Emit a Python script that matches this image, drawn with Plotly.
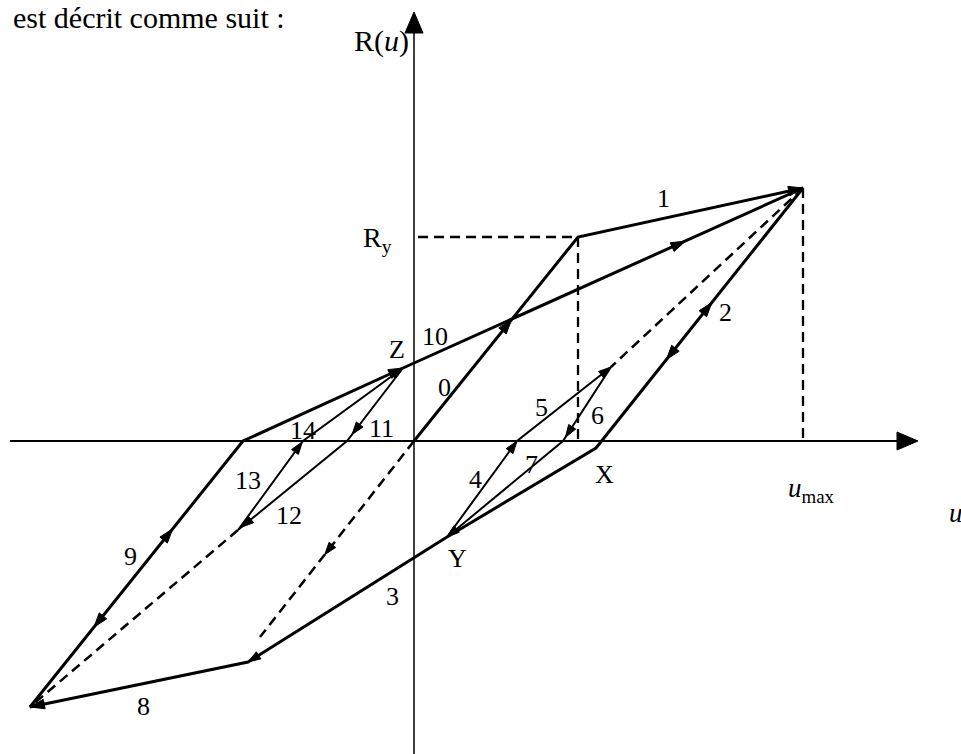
import numpy as np
import plotly.graph_objects as go

# Hysteresis loop R(u): key points (u, R) of the force-displacement path
loop_names = ["O", "A", "P", "X", "Y", "B", "C", "D", "Z", "H4", "F", "H6", "H11", "G", "H13", "E"]
loop_u = [0.0, 16.4, 38.9, 18.2, 3.3, -16.6, -38.4, -17.1, -1.1, 10.3, 19.7, 14.9, -6.7, -17.6, -11.1, -15.4]
loop_R = [0.0, 20.4, 25.3, -0.7, -9.6, -22.1, -26.6, 0.0, 7.3, 0.0, 7.4, 0.0, 0.0, -8.9, 0.0, -19.6]
pt = {n: (u, r) for n, u, r in zip(loop_names, loop_u, loop_R)}

# branches: 0 O-A, 1 A-P, 2 P-X, 3 X-B, 8 B-C, 9 C-D, 10 D-P
main_path = ["O", "A", "P", "X", "Y", "B", "C", "D", "Z", "P"]
# small cycles: 4-5-6-7 around Y and 11-12-13-14 around Z
inner_paths = [["Y", "H4", "F", "H6", "Y"], ["Z", "H11", "G", "H13", "Z"]]
# dashed paths (continuation of branches)
dashed_paths = [["P", "F"], ["G", "C"], ["O", "E"]]

# arrowheads: (from, to, fraction along segment, kind)
arrows = [
    ("O", "A", 0.595, "thick"),
    ("A", "P", 1.0, "thick"),
    ("D", "P", 0.79, "thick"),
    ("D", "Z", 1.0, "thick"),
    ("P", "X", 0.66, "thick"),
    ("X", "P", 0.56, "thick"),
    ("Y", "B", 1.0, "thin"),
    ("B", "C", 1.0, "thick"),
    ("C", "D", 0.67, "thick"),
    ("D", "C", 0.70, "thick"),
    ("Y", "H4", 1.0, "thin"),
    ("H4", "F", 1.0, "thin"),
    ("F", "H6", 0.95, "thin"),
    ("H6", "Y", 1.0, "thin"),
    ("Z", "H11", 0.91, "thin"),
    ("H11", "G", 0.97, "thin"),
    ("G", "H13", 0.99, "thin"),
    ("H13", "Z", 1.0, "thin"),
    ("O", "E", 0.58, "thin"),
]

# branch numbers and point names
label_text = ["1", "2", "10", "Z", "0", "5", "6", "14", "11", "X", "13", "4", "7", "12", "9", "Y", "3", "8"]
label_u = [24.9, 31.1, 2.1, -1.7, 3.0, 12.7, 18.3, -11.1, -3.3, 19.0, -16.6, 6.1, 11.7, -12.5, -28.4, 4.3, -2.2, -27.1]
label_R = [24.3, 12.9, 10.5, 9.2, 5.4, 3.4, 2.6, 1.1, 1.3, -3.3, -3.9, -3.8, -2.3, -7.4, -11.5, -11.7, -15.5, -26.5]

X_RANGE = [-41.4, 54.7]
Y_RANGE = [-31.3, 44.1]
FONT = "Liberation Serif"
INK = "black"


def xy(names):
    return [pt[n][0] for n in names], [pt[n][1] for n in names]


def head(tip, d, length, half):
    d = np.asarray(d, float)
    d = d / np.linalg.norm(d)
    n = np.array([-d[1], d[0]])
    tip = np.asarray(tip, float)
    base = tip - length * d
    a = base + half * n
    b = base - half * n
    return [tip[0], a[0], b[0], tip[0], None], [tip[1], a[1], b[1], tip[1], None]


fig = go.Figure()

# coordinate axes
fig.add_trace(go.Scatter(x=[X_RANGE[0] + 1.0, 49.0], y=[0, 0], mode="lines",
                         line=dict(color=INK, width=2), hoverinfo="skip"))
fig.add_trace(go.Scatter(x=[0, 0], y=[Y_RANGE[0], 41.5], mode="lines",
                         line=dict(color=INK, width=1.5), hoverinfo="skip"))
ax_x, ax_y = [], []
for tip, d in [((50.4, 0.0), (1, 0)), ((0.0, 42.9), (0, 1))]:
    hx, hy = head(tip, d, 2.1, 0.9)
    ax_x += hx
    ax_y += hy
fig.add_trace(go.Scatter(x=ax_x, y=ax_y, mode="lines", fill="toself", fillcolor=INK,
                         line=dict(color=INK, width=1), hoverinfo="skip"))

# guides for R_y and u_max
ry_u, ry_R = pt["A"]
um_u, um_R = pt["P"]
guides = [([0.4, ry_u], [ry_R, ry_R]), ([ry_u, ry_u], [ry_R, 0]), ([um_u, um_u], [um_R, 0])]
for gx, gy in guides:
    fig.add_trace(go.Scatter(x=gx, y=gy, mode="lines", hoverinfo="skip",
                             line=dict(color=INK, width=2.3, dash="10px,6px")))

# dashed branches
for path in dashed_paths:
    px_, py_ = xy(path)
    fig.add_trace(go.Scatter(x=px_, y=py_, mode="lines", hoverinfo="skip",
                             line=dict(color=INK, width=2.5, dash="10px,6px")))

# main loop
mx, my = xy(main_path)
fig.add_trace(go.Scatter(x=mx, y=my, mode="lines", hoverinfo="skip",
                         line=dict(color=INK, width=3)))

# inner cycles
for path in inner_paths:
    px_, py_ = xy(path)
    fig.add_trace(go.Scatter(x=px_, y=py_, mode="lines", hoverinfo="skip",
                             line=dict(color=INK, width=2)))

# arrowheads along the path
hx_all, hy_all = [], []
for a, b, t, kind in arrows:
    p0 = np.array(pt[a])
    p1 = np.array(pt[b])
    tip = p0 + t * (p1 - p0)
    L, W = (1.45, 0.48) if kind == "thick" else (1.25, 0.42)
    hx, hy = head(tip, p1 - p0, L, W)
    hx_all += hx
    hy_all += hy
fig.add_trace(go.Scatter(x=hx_all, y=hy_all, mode="lines", fill="toself", fillcolor=INK,
                         line=dict(color=INK, width=1), hoverinfo="skip"))

annotations = []
for s, u, r in zip(label_text, label_u, label_R):
    annotations.append(dict(x=u, y=r, text=s, showarrow=False, xanchor="center", yanchor="middle",
                            font=dict(family=FONT, size=26, color=INK)))

annotations += [
    dict(x=-40.2, y=Y_RANGE[1], text="est décrit comme suit :", showarrow=False,
         xanchor="left", yanchor="top", borderpad=0,
         font=dict(family=FONT, size=30, color=INK)),
    dict(x=-0.3, y=40.0, text="R(<i>u</i>)", showarrow=False, xanchor="right",
         yanchor="middle", font=dict(family=FONT, size=30, color=INK)),
    dict(x=-2.0, y=20.2, text="R<sub>y</sub>", showarrow=False, xanchor="right",
         yanchor="middle", font=dict(family=FONT, size=28, color=INK)),
    dict(x=37.2, y=-4.9, text="<i>u</i><sub>max</sub>", showarrow=False, xanchor="left",
         yanchor="middle", font=dict(family=FONT, size=27, color=INK)),
    dict(x=53.3, y=-7.2, text="<i>u</i>", showarrow=False, xanchor="left",
         yanchor="middle", font=dict(family=FONT, size=27, color=INK)),
]

fig.update_layout(
    width=961, height=754,
    margin=dict(l=0, r=0, t=0, b=0),
    paper_bgcolor="white", plot_bgcolor="white",
    showlegend=False,
    xaxis=dict(range=X_RANGE, visible=False, fixedrange=True),
    yaxis=dict(range=Y_RANGE, visible=False, fixedrange=True),
    annotations=annotations,
)

fig.write_html("out.html", config={"displayModeBar": False})
